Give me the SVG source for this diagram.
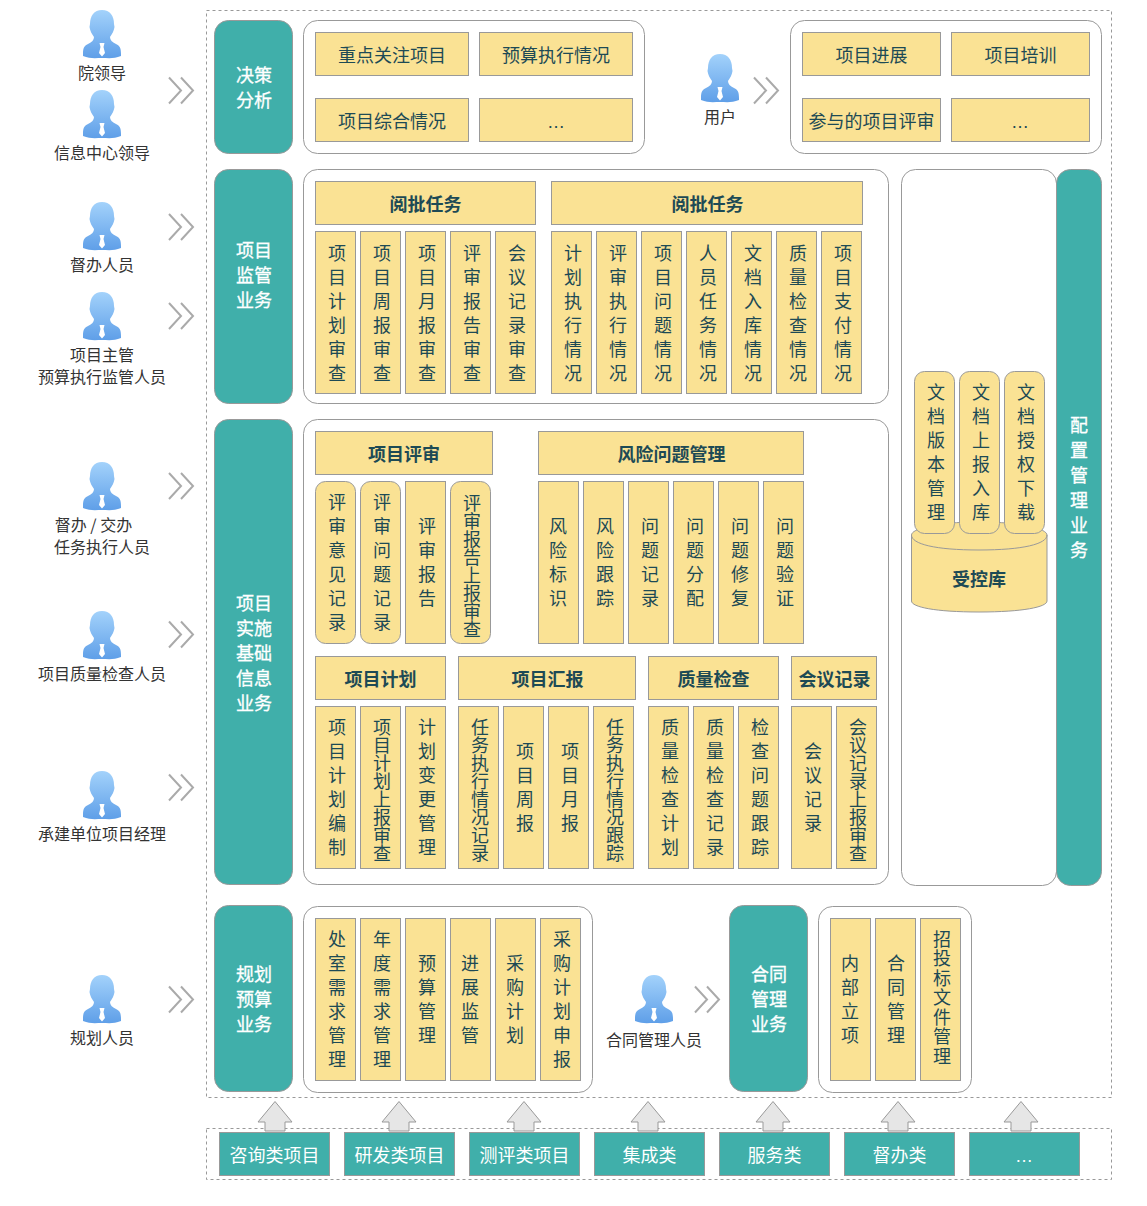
<svg xmlns="http://www.w3.org/2000/svg" width="1147" height="1206" viewBox="0 0 1147 1206">
<style>
text{font-family:"Noto Sans CJK SC","Noto Sans",sans-serif;text-anchor:middle;dominant-baseline:central}
.dash{fill:none;stroke:#999;stroke-dasharray:3 3}
.w{fill:#fff;stroke:#999;stroke-width:1}
.tl{fill:#40afaa;stroke:#999;stroke-width:1}
.y{fill:#fae294;stroke:#999;stroke-width:1}
.h{fill:#1d4a55;font-size:18px}
.hb{fill:#1d4a55;font-size:18px;font-weight:bold}
.v{fill:#1d4a55;font-size:18px;writing-mode:vertical-rl;letter-spacing:6px}
.v0{letter-spacing:0}
.v2{letter-spacing:1.500px}
.lt{fill:#fff;stroke:#fff;stroke-width:.3px;font-size:18px}
.lv{fill:#fff;stroke:#fff;stroke-width:.3px;font-size:18px;writing-mode:vertical-rl;letter-spacing:7px}
.bt{fill:#fff;font-size:18px}
.p{fill:#333;font-size:16px}
.ell{font-family:"Liberation Sans",sans-serif}
.ch{fill:none;stroke:#aaa;stroke-width:2}
.ar{fill:#e6e6e6;stroke:#999;stroke-width:1}
</style>
<defs>
<linearGradient id="pg" x1="0" y1="0" x2="0" y2="1"><stop offset="0" stop-color="#a3d2fb"/><stop offset="1" stop-color="#5f9fe8"/></linearGradient>
<symbol id="person" overflow="visible">
<path fill="url(#pg)" d="M0 0C8 0 12 6 12 14L12.500 17C12 21 10 24 8 27C8 30 10 32 14 34C18 36 19 38 19 44L19 46C12 49 6 48 0 48C-6 48-12 49-19 46L-19 44C-19 38-18 36-14 34C-10 32-8 30-8 27C-10 24-12 21-12.500 17L-12 14C-12 6-8 0 0 0Z"/>
<path fill="#fff" d="M-2.500 33H2.500L1.500 37L3 43L0 46.500L-3 43L-1.500 37Z"/>
</symbol>
<g id="chev"><path class="ch" d="M-12-13L0 0L-12 13M0-13L12 0L0 13"/></g>
<path id="up" class="ar" d="M0 0L17 20.500H10V29.500H-10V20.500H-17Z"/>
</defs>

<rect class="dash" x="206.500" y="10.500" width="905" height="1087"/>
<rect class="dash" x="206.500" y="1128.500" width="905" height="51"/>

<g id="connectors">
<use href="#chev" x="181" y="90.500"/>
<use href="#chev" x="181" y="227"/>
<use href="#chev" x="181" y="316"/>
<use href="#chev" x="181" y="486"/>
<use href="#chev" x="181" y="634.500"/>
<use href="#chev" x="181" y="787.500"/>
<use href="#chev" x="181" y="999.500"/>
<use href="#chev" x="766" y="90.500"/>
<use href="#chev" x="707" y="999.500"/>
<use href="#up" x="275" y="1101.500"/>
<use href="#up" x="399" y="1101.500"/>
<use href="#up" x="524" y="1101.500"/>
<use href="#up" x="648" y="1101.500"/>
<use href="#up" x="773" y="1101.500"/>
<use href="#up" x="898" y="1101.500"/>
<use href="#up" x="1021" y="1101.500"/>
</g>

<g id="actor-1"><use href="#person" x="102" y="10"/><text class="p" x="102" y="72">院领导</text></g>
<g id="actor-2"><use href="#person" x="102" y="90"/><text class="p" x="102" y="152">信息中心领导</text></g>
<g id="actor-3"><use href="#person" x="102" y="202"/><text class="p" x="102" y="264">督办人员</text></g>
<g id="actor-4"><use href="#person" x="102" y="292"/><text class="p" x="102" y="354">项目主管</text><text class="p" x="102" y="376">预算执行监管人员</text></g>
<g id="actor-5"><use href="#person" x="102" y="462"/><text class="p" x="93.500" y="524">督办 / 交办</text><text class="p" x="102" y="546">任务执行人员</text></g>
<g id="actor-6"><use href="#person" x="102" y="611"/><text class="p" x="102" y="673">项目质量检查人员</text></g>
<g id="actor-7"><use href="#person" x="102" y="771"/><text class="p" x="102" y="833">承建单位项目经理</text></g>
<g id="actor-8"><use href="#person" x="102" y="975"/><text class="p" x="102" y="1037">规划人员</text></g>
<g id="actor-9"><use href="#person" x="720" y="54"/><text class="p" x="720" y="116">用户</text></g>
<g id="actor-10"><use href="#person" x="654" y="975"/><text class="p" x="654" y="1039">合同管理人员</text></g>

<g id="teal-decision"><rect class="tl" x="214.500" y="20.500" width="78" height="133" rx="14"/><text class="lt" x="254" y="74">决策</text><text class="lt" x="254" y="99">分析</text></g>
<g id="teal-supervise"><rect class="tl" x="214.500" y="169.500" width="78" height="234" rx="14"/><text class="lt" x="254" y="249">项目</text><text class="lt" x="254" y="274">监管</text><text class="lt" x="254" y="299">业务</text></g>
<g id="teal-impl"><rect class="tl" x="214.500" y="419.500" width="78" height="465" rx="14"/><text class="lt" x="254" y="602">项目</text><text class="lt" x="254" y="627">实施</text><text class="lt" x="254" y="652">基础</text><text class="lt" x="254" y="677">信息</text><text class="lt" x="254" y="702">业务</text></g>
<g id="teal-plan"><rect class="tl" x="214.500" y="905.500" width="78" height="186" rx="14"/><text class="lt" x="254" y="973">规划</text><text class="lt" x="254" y="998">预算</text><text class="lt" x="254" y="1023">业务</text></g>
<g id="teal-contract"><rect class="tl" x="729.500" y="905.500" width="78" height="186" rx="14"/><text class="lt" x="769" y="973">合同</text><text class="lt" x="769" y="998">管理</text><text class="lt" x="769" y="1023">业务</text></g>

<g id="panel-a"><rect class="w" x="303.500" y="20.500" width="341" height="133" rx="14"/></g>
<g id="panel-b"><rect class="w" x="790.500" y="20.500" width="311" height="133" rx="14"/></g>
<g id="panel-c"><rect class="w" x="303.500" y="169.500" width="585" height="234" rx="14"/></g>
<g id="panel-d"><rect class="w" x="303.500" y="419.500" width="585" height="465" rx="14"/></g>
<g id="panel-e"><rect class="w" x="303.500" y="906.500" width="289" height="186" rx="14"/></g>
<g id="panel-f"><rect class="w" x="818.500" y="906.500" width="153" height="186" rx="14"/></g>
<g id="panel-g"><rect class="w" x="901.500" y="169.500" width="155" height="716" rx="14"/></g>
<g id="teal-config"><rect class="tl" x="1056.500" y="169.500" width="45" height="716" rx="14"/><text class="lv" x="1079" y="491">配置管理业务</text></g>

<g id="a1"><rect class="y" x="315.500" y="32.500" width="153" height="43"/><text class="h" x="392" y="54">重点关注项目</text></g>
<g id="a2"><rect class="y" x="479.500" y="32.500" width="153" height="43"/><text class="h" x="556" y="54">预算执行情况</text></g>
<g id="a3"><rect class="y" x="315.500" y="98.500" width="153" height="43"/><text class="h" x="392" y="120">项目综合情况</text></g>
<g id="a4"><rect class="y" x="479.500" y="98.500" width="153" height="43"/><text class="h ell" x="556" y="122">…</text></g>
<g id="b1"><rect class="y" x="802.500" y="32.500" width="138" height="43"/><text class="h" x="871.500" y="54">项目进展</text></g>
<g id="b2"><rect class="y" x="951.500" y="32.500" width="138" height="43"/><text class="h" x="1020.500" y="54">项目培训</text></g>
<g id="b3"><rect class="y" x="802.500" y="98.500" width="138" height="43"/><text class="h" x="871.500" y="120">参与的项目评审</text></g>
<g id="b4"><rect class="y" x="951.500" y="98.500" width="138" height="43"/><text class="h ell" x="1020" y="122">…</text></g>

<g id="c-h1"><rect class="y" x="315.500" y="181.500" width="220" height="43"/><text class="hb" x="425.500" y="203">阅批任务</text></g>
<g id="c-h2"><rect class="y" x="551.500" y="181.500" width="311" height="43"/><text class="hb" x="707.500" y="203">阅批任务</text></g>
<g id="c1"><rect class="y" x="315.500" y="231.500" width="40" height="162"/><text class="v" x="337" y="316">项目计划审查</text></g>
<g id="c2"><rect class="y" x="360.500" y="231.500" width="40" height="162"/><text class="v" x="382" y="316">项目周报审查</text></g>
<g id="c3"><rect class="y" x="405.500" y="231.500" width="40" height="162"/><text class="v" x="427" y="316">项目月报审查</text></g>
<g id="c4"><rect class="y" x="450.500" y="231.500" width="40" height="162"/><text class="v" x="472" y="316">评审报告审查</text></g>
<g id="c5"><rect class="y" x="495.500" y="231.500" width="40" height="162"/><text class="v" x="517" y="316">会议记录审查</text></g>
<g id="c6"><rect class="y" x="551.500" y="231.500" width="40" height="162"/><text class="v" x="573" y="316">计划执行情况</text></g>
<g id="c7"><rect class="y" x="596.500" y="231.500" width="40" height="162"/><text class="v" x="618" y="316">评审执行情况</text></g>
<g id="c8"><rect class="y" x="641.500" y="231.500" width="40" height="162"/><text class="v" x="663" y="316">项目问题情况</text></g>
<g id="c9"><rect class="y" x="686.500" y="231.500" width="40" height="162"/><text class="v" x="708" y="316">人员任务情况</text></g>
<g id="c10"><rect class="y" x="731.500" y="231.500" width="40" height="162"/><text class="v" x="753" y="316">文档入库情况</text></g>
<g id="c11"><rect class="y" x="776.500" y="231.500" width="40" height="162"/><text class="v" x="798" y="316">质量检查情况</text></g>
<g id="c12"><rect class="y" x="821.500" y="231.500" width="40" height="162"/><text class="v" x="843" y="316">项目支付情况</text></g>

<g id="d-h1"><rect class="y" x="315.500" y="431.500" width="177" height="43"/><text class="hb" x="404" y="453">项目评审</text></g>
<g id="d-h2"><rect class="y" x="538.500" y="431.500" width="265" height="43"/><text class="hb" x="671.500" y="453">风险问题管理</text></g>
<g id="d1"><rect class="y" x="315.500" y="481.500" width="40" height="162" rx="10"/><text class="v" x="337" y="565.500">评审意见记录</text></g>
<g id="d2"><rect class="y" x="360.500" y="481.500" width="40" height="162" rx="10"/><text class="v" x="382" y="565.500">评审问题记录</text></g>
<g id="d3"><rect class="y" x="405.500" y="481.500" width="40" height="162"/><text class="v" x="427" y="565.500">评审报告</text></g>
<g id="d4"><rect class="y" x="450.500" y="481.500" width="40" height="162" rx="10"/><text class="v v0" x="472" y="566">评审报告上报审查</text></g>
<g id="d5"><rect class="y" x="538.500" y="481.500" width="40" height="162"/><text class="v" x="558" y="565.500">风险标识</text></g>
<g id="d6"><rect class="y" x="583.500" y="481.500" width="40" height="162"/><text class="v" x="605" y="565.500">风险跟踪</text></g>
<g id="d7"><rect class="y" x="628.500" y="481.500" width="40" height="162"/><text class="v" x="650" y="565.500">问题记录</text></g>
<g id="d8"><rect class="y" x="673.500" y="481.500" width="40" height="162"/><text class="v" x="695" y="565.500">问题分配</text></g>
<g id="d9"><rect class="y" x="718.500" y="481.500" width="40" height="162"/><text class="v" x="740" y="565.500">问题修复</text></g>
<g id="d10"><rect class="y" x="763.500" y="481.500" width="40" height="162"/><text class="v" x="785" y="565.500">问题验证</text></g>

<g id="e-h1"><rect class="y" x="315.500" y="656.500" width="130" height="43"/><text class="hb" x="380.500" y="678">项目计划</text></g>
<g id="e-h2"><rect class="y" x="458.500" y="656.500" width="177" height="43"/><text class="hb" x="547.500" y="678">项目汇报</text></g>
<g id="e-h3"><rect class="y" x="648.500" y="656.500" width="130" height="43"/><text class="hb" x="713.500" y="678">质量检查</text></g>
<g id="e-h4"><rect class="y" x="791.500" y="656.500" width="85" height="43"/><text class="hb" x="834.500" y="678">会议记录</text></g>
<g id="e1"><rect class="y" x="315.500" y="706.500" width="40" height="162"/><text class="v" x="337" y="790.500">项目计划编制</text></g>
<g id="e2"><rect class="y" x="360.500" y="706.500" width="40" height="162"/><text class="v v0" x="382" y="790.500">项目计划上报审查</text></g>
<g id="e3"><rect class="y" x="405.500" y="706.500" width="40" height="162"/><text class="v" x="427" y="790.500">计划变更管理</text></g>
<g id="e4"><rect class="y" x="458.500" y="706.500" width="40" height="162"/><text class="v v0" x="480" y="790.500">任务执行情况记录</text></g>
<g id="e5"><rect class="y" x="503.500" y="706.500" width="40" height="162"/><text class="v" x="525" y="790.500">项目周报</text></g>
<g id="e6"><rect class="y" x="548.500" y="706.500" width="40" height="162"/><text class="v" x="570" y="790.500">项目月报</text></g>
<g id="e7"><rect class="y" x="593.500" y="706.500" width="40" height="162"/><text class="v v0" x="615" y="790.500">任务执行情况跟踪</text></g>
<g id="e8"><rect class="y" x="648.500" y="706.500" width="40" height="162"/><text class="v" x="670" y="790.500">质量检查计划</text></g>
<g id="e9"><rect class="y" x="693.500" y="706.500" width="40" height="162"/><text class="v" x="715" y="790.500">质量检查记录</text></g>
<g id="e10"><rect class="y" x="738.500" y="706.500" width="40" height="162"/><text class="v" x="760" y="790.500">检查问题跟踪</text></g>
<g id="e11"><rect class="y" x="791.500" y="706.500" width="40" height="162"/><text class="v" x="813" y="790.500">会议记录</text></g>
<g id="e12"><rect class="y" x="836.500" y="706.500" width="40" height="162"/><text class="v v0" x="858" y="790.500">会议记录上报审查</text></g>

<g id="f1"><rect class="y" x="315.500" y="918.500" width="40" height="162"/><text class="v" x="337" y="1002.500">处室需求管理</text></g>
<g id="f2"><rect class="y" x="360.500" y="918.500" width="40" height="162"/><text class="v" x="382" y="1002.500">年度需求管理</text></g>
<g id="f3"><rect class="y" x="405.500" y="918.500" width="40" height="162"/><text class="v" x="427" y="1002.500">预算管理</text></g>
<g id="f4"><rect class="y" x="450.500" y="918.500" width="40" height="162"/><text class="v" x="470" y="1002.500">进展监管</text></g>
<g id="f5"><rect class="y" x="495.500" y="918.500" width="40" height="162"/><text class="v" x="515" y="1002.500">采购计划</text></g>
<g id="f6"><rect class="y" x="540.500" y="918.500" width="40" height="162"/><text class="v" x="562" y="1002.500">采购计划申报</text></g>
<g id="g1"><rect class="y" x="830.500" y="918.500" width="40" height="162"/><text class="v" x="850" y="1002.500">内部立项</text></g>
<g id="g2"><rect class="y" x="875.500" y="918.500" width="40" height="162"/><text class="v" x="896" y="1002.500">合同管理</text></g>
<g id="g3"><rect class="y" x="920.500" y="918.500" width="40" height="162"/><text class="v v2" x="942" y="998">招投标文件管理</text></g>

<g id="repo"><path class="y" d="M911.500 535C911.500 529 935 522 979 522C1023 522 1047 529 1047 535V601C1047 607 1023 612 979 612C935 612 911.500 607 911.500 601Z"/><path fill="none" stroke="#999" d="M911.500 535C911.500 544 935 550 979 550C1023 550 1047 544 1047 535"/><text class="hb" x="979" y="578">受控库</text></g>
<g id="h1"><rect class="y" x="914.500" y="371.500" width="40" height="162" rx="10"/><text class="v" x="936" y="455.500">文档版本管理</text></g>
<g id="h2"><rect class="y" x="959.500" y="371.500" width="40" height="162" rx="10"/><text class="v" x="981" y="455.500">文档上报入库</text></g>
<g id="h3"><rect class="y" x="1004.500" y="371.500" width="40" height="162" rx="10"/><text class="v" x="1026" y="455.500">文档授权下载</text></g>

<g id="s1"><rect class="tl" x="219.500" y="1132.500" width="110" height="43"/><text class="bt" x="274.500" y="1154">咨询类项目</text></g>
<g id="s2"><rect class="tl" x="344.500" y="1132.500" width="110" height="43"/><text class="bt" x="399.500" y="1154">研发类项目</text></g>
<g id="s3"><rect class="tl" x="469.500" y="1132.500" width="110" height="43"/><text class="bt" x="524.500" y="1154">测评类项目</text></g>
<g id="s4"><rect class="tl" x="594.500" y="1132.500" width="110" height="43"/><text class="bt" x="649.500" y="1154">集成类</text></g>
<g id="s5"><rect class="tl" x="719.500" y="1132.500" width="110" height="43"/><text class="bt" x="774.500" y="1154">服务类</text></g>
<g id="s6"><rect class="tl" x="844.500" y="1132.500" width="110" height="43"/><text class="bt" x="899.500" y="1154">督办类</text></g>
<g id="s7"><rect class="tl" x="969.500" y="1132.500" width="110" height="43"/><text class="bt ell" x="1024" y="1156">…</text></g>
</svg>
